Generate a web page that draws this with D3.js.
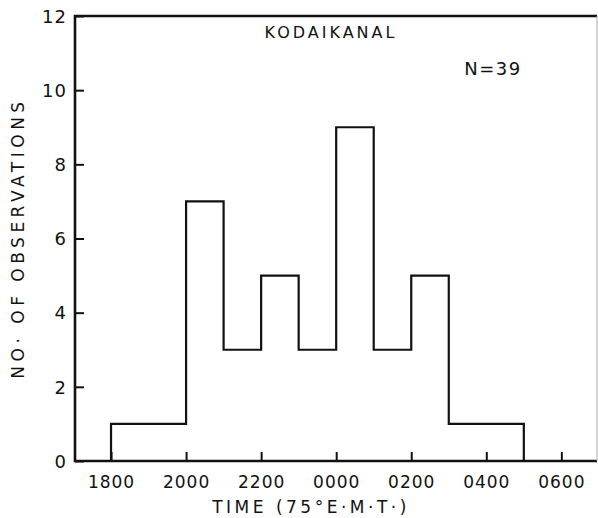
<!DOCTYPE html>
<html>
<head>
<meta charset="utf-8">
<script src="https://cdn.jsdelivr.net/npm/d3@7"></script>
<style>
  body { margin: 0; background: #fff; }
  svg text { font-family: "DejaVu Sans", sans-serif; fill: #111; }
</style>
</head>
<body>
<svg id="chart" width="598" height="518"></svg>
<script>
// hourly bins, counted in hours after 1800 (75°E mean time)
const binStarts = [0, 1, 2, 3, 4, 5, 6, 7, 8, 9, 10];
const counts = [1, 1, 7, 3, 5, 3, 9, 3, 5, 1, 1];
const tickHours = [0, 2, 4, 6, 8, 10, 12];
const tickLabels = ["1800", "2000", "2200", "0000", "0200", "0400", "0600"];
const yTicks = [0, 2, 4, 6, 8, 10, 12];

const svg = d3.select("#chart");
const x = d3.scaleLinear().domain([-0.96, 12.95]).range([75, 597]);
const y = d3.scaleLinear().domain([0, 12]).range([461, 16]);

// frame
svg.append("path")
    .attr("d", `M${x(12.95)},${y(12)} L${x(-0.96)},${y(12)} L${x(-0.96)},${y(0)} L${x(12.95)},${y(0)}`)
    .attr("fill", "none")
    .attr("stroke", "#111")
    .attr("stroke-width", 2.6);
svg.append("line")
    .attr("x1", x(12.95)).attr("x2", x(12.95))
    .attr("y1", y(12)).attr("y2", y(0))
    .attr("stroke", "#aaa").attr("stroke-width", 1);

// y ticks
const yAxis = d3.axisLeft(y).tickValues(yTicks).tickSize(-9).tickPadding(8).tickFormat(d3.format("d"));
const gy = svg.append("g").attr("transform", `translate(${x(-0.96)},0)`).call(yAxis);
gy.select(".domain").remove();
gy.selectAll(".tick line").attr("stroke", "#111").attr("stroke-width", 2);
gy.selectAll(".tick text").style("font-size", "18px").style("letter-spacing", "1px").attr("dy", "0.35em");

// x ticks
const xAxis = d3.axisBottom(x).tickValues(tickHours).tickSize(-9).tickPadding(16)
    .tickFormat((d, i) => tickLabels[i]);
const gx = svg.append("g").attr("transform", `translate(0,${y(0)})`).call(xAxis);
gx.select(".domain").remove();
gx.selectAll(".tick line").attr("stroke", "#111").attr("stroke-width", 2);
gx.selectAll(".tick text").style("font-size", "17px").style("letter-spacing", "1px").attr("dy", "0.65em");

// histogram outline
const pts = [[binStarts[0], 0]];
binStarts.forEach((b, i) => { pts.push([b, counts[i]]); pts.push([b + 1, counts[i]]); });
pts.push([binStarts[binStarts.length - 1] + 1, 0]);
svg.append("path")
    .datum(pts)
    .attr("d", d3.line().x(d => x(d[0])).y(d => y(d[1])))
    .attr("fill", "none")
    .attr("stroke", "#111")
    .attr("stroke-width", 2.2);

// texts
svg.append("text").attr("x", 331).attr("y", 38).attr("text-anchor", "middle")
    .style("font-size", "16px").style("letter-spacing", "3px").text("KODAIKANAL");
svg.append("text").attr("x", 493).attr("y", 75).attr("text-anchor", "middle")
    .style("font-size", "18px").style("letter-spacing", "1.5px").text("N=39");
svg.append("text").attr("x", 311).attr("y", 513).attr("text-anchor", "middle")
    .style("font-size", "17px").style("letter-spacing", "3.5px").text("TIME (75°E·M·T·)");
svg.append("text").attr("transform", "translate(24,238) rotate(-90)").attr("text-anchor", "middle")
    .style("font-size", "17px").style("letter-spacing", "4.5px").text("NO· OF OBSERVATIONS");
</script>
</body>
</html>
